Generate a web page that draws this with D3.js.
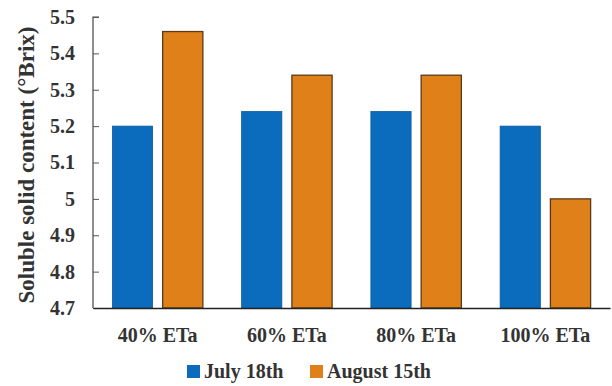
<!DOCTYPE html>
<html><head><meta charset="utf-8">
<script src="https://cdn.jsdelivr.net/npm/d3@7"></script>
<style>body{margin:0;background:#fff}svg{display:block}</style>
</head><body>
<script>
const categories = ["40% ETa", "60% ETa", "80% ETa", "100% ETa"];
const seriesNames = ["July 18th", "August 15th"];
const july = [5.2, 5.24, 5.24, 5.2];
const august = [5.46, 5.34, 5.34, 5.0];
const yTicks = [4.7, 4.8, 4.9, 5, 5.1, 5.2, 5.3, 5.4, 5.5];
const colors = ["#0b6cbd", "#e08019"];

const W = 612, H = 386;
const m = {l: 93, r: 2, t: 17, b: 78};
const svg = d3.select("body").append("svg").attr("width", W).attr("height", H);
const font = "'Liberation Serif','Times New Roman',serif";

const x0 = d3.scaleBand().domain(categories).range([m.l, W - m.r]).paddingInner(0.3).paddingOuter(0.15);
const x1 = d3.scaleBand().domain(seriesNames).range([0, x0.bandwidth()]).paddingInner(0.2);
const y = d3.scaleLinear().domain([4.7, 5.5]).range([H - m.b, m.t]);

const data = categories.map((c, i) => ({c, vals: [july[i], august[i]]}));

const g = svg.append("g");
g.selectAll("g.grp").data(data).join("g").attr("class", "grp")
  .attr("transform", d => `translate(${x0(d.c)},0)`)
  .selectAll("rect").data(d => d.vals.map((v, j) => ({v, j})))
  .join("rect")
  .attr("x", d => x1(seriesNames[d.j]))
  .attr("width", x1.bandwidth())
  .attr("y", d => y(d.v))
  .attr("height", d => y(4.7) - y(d.v))
  .attr("fill", d => colors[d.j])
  .attr("stroke", d => d.j === 1 ? "#5a3a1a" : "#0a5a9a")
  .attr("stroke-width", d => d.j === 1 ? 1.3 : 0.8);

// y axis
const ya = svg.append("g").attr("transform", `translate(${m.l},0)`)
  .call(d3.axisRight(y).tickValues(yTicks).tickSize(6).tickFormat(d3.format("")));
ya.select(".domain").attr("stroke", "#444").attr("stroke-width", 1.2).attr("d", `M6,${m.t}H0V${H - m.b}`);
ya.selectAll(".tick line").attr("stroke", "#555");
ya.selectAll(".tick text").attr("x", -18).attr("text-anchor", "end")
  .attr("font-family", font).attr("font-weight", "bold").attr("font-size", 20).attr("fill", "#333");

// x axis
const xa = svg.append("g").attr("transform", `translate(0,${H - m.b})`)
  .call(d3.axisBottom(x0).tickSize(0).tickPadding(20));
xa.select(".domain").attr("stroke", "#222").attr("stroke-width", 1.6);
xa.selectAll(".tick text").attr("font-family", font).attr("font-weight", "bold").attr("font-size", 20).attr("fill", "#333");

// y title
svg.append("text").attr("transform", `translate(34,165) rotate(-90)`)
  .attr("text-anchor", "middle").attr("font-family", font).attr("font-weight", "bold")
  .attr("font-size", 23).attr("fill", "#333").text("Soluble solid content (°Brix)");

// legend
const legX = [187, 310];
const leg = svg.append("g");
seriesNames.forEach((s, i) => {
  leg.append("rect").attr("x", legX[i]).attr("y", 365).attr("width", 13).attr("height", 13).attr("fill", colors[i]);
  leg.append("text").attr("x", legX[i] + 17).attr("y", 378).attr("font-family", font).attr("font-weight", "bold")
    .attr("font-size", 20).attr("fill", "#333").text(s);
});
</script>
</body></html>
